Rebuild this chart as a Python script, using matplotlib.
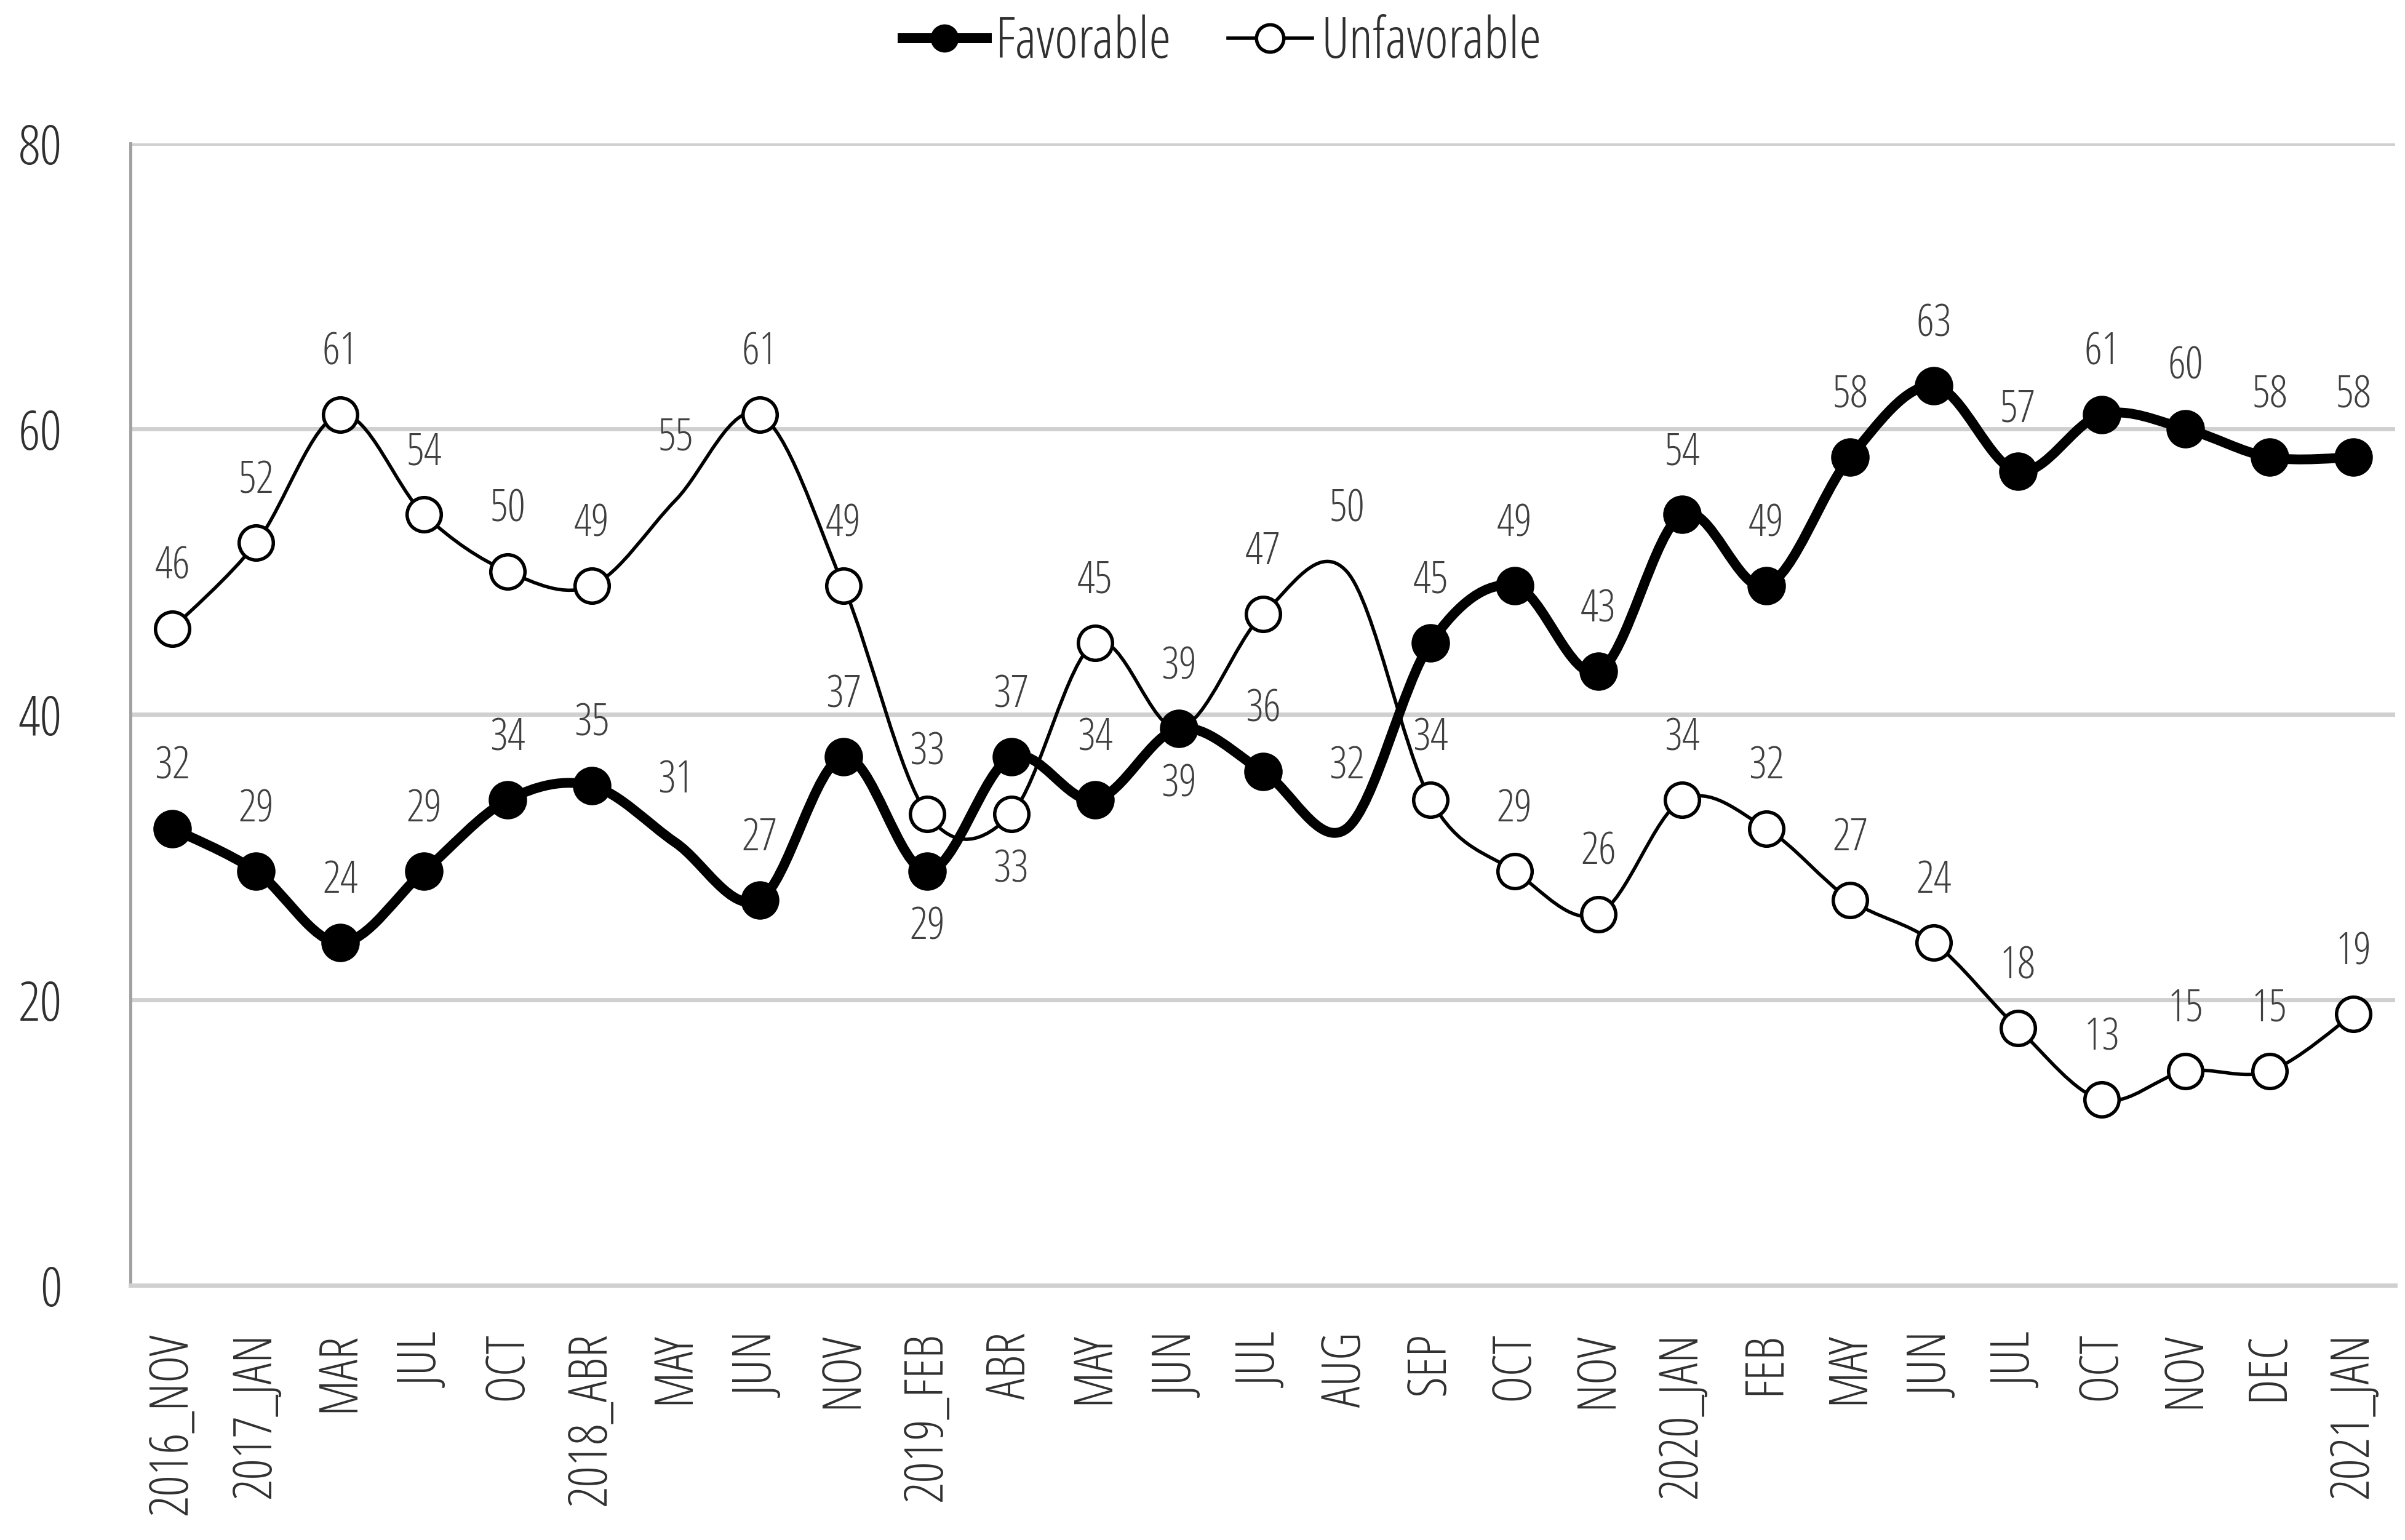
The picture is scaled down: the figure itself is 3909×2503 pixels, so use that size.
import matplotlib
matplotlib.use('Agg')
import matplotlib.pyplot as plt
from matplotlib.path import Path
from matplotlib.patches import PathPatch
from matplotlib.lines import Line2D
import numpy as np

# data
months = ['2016_NOV', '2017_JAN', 'MAR', 'JUL', 'OCT', '2018_ABR', 'MAY', 'JUN', 'NOV',
          '2019_FEB', 'ABR', 'MAY', 'JUN', 'JUL', 'AUG', 'SEP', 'OCT', 'NOV',
          '2020_JAN', 'FEB', 'MAY', 'JUN', 'JUL', 'OCT', 'NOV', 'DEC', '2021_JAN']
favorable = [32, 29, 24, 29, 34, 35, 31, 27, 37, 29, 37, 34, 39, 36, 32, 45, 49, 43,
             54, 49, 58, 63, 57, 61, 60, 58, 58]
unfavorable = [46, 52, 61, 54, 50, 49, 55, 61, 49, 33, 33, 45, 39, 47, 50, 34, 29, 26,
               34, 32, 27, 24, 18, 13, 15, 15, 19]
no_marker = [6, 14]          # points drawn without a marker
fav_below = [9, 12]          # labels placed under the point
unfav_below = [10]

plt.rcParams['font.family'] = ['Open Sans', 'DejaVu Sans']
plt.rcParams['font.stretch'] = 'condensed'
plt.rcParams['font.weight'] = 'light'

fig = plt.figure(figsize=(39.09, 25.03), dpi=100)
ax = fig.add_axes([0.0542, 0.1654, 0.9418, 0.7416])


def smooth_path(vals):
    # excel-like smoothed line as cubic bezier segments
    x = np.arange(len(vals), dtype=float)
    y = np.asarray(vals, dtype=float)
    n = len(y)
    verts = [(x[0], y[0])]
    codes = [Path.MOVETO]
    for i in range(n - 1):
        a = max(i - 1, 0)
        b = min(i + 2, n - 1)
        c1 = (x[i] + (x[i + 1] - x[a]) / 6, y[i] + (y[i + 1] - y[a]) / 6)
        c2 = (x[i + 1] - (x[b] - x[i]) / 6, y[i + 1] - (y[b] - y[i]) / 6)
        verts += [c1, c2, (x[i + 1], y[i + 1])]
        codes += [Path.CURVE4] * 3
    return Path(verts, codes)


ax.add_patch(PathPatch(smooth_path(unfavorable), facecolor='none', edgecolor='black',
                       lw=4, zorder=3))
ax.add_patch(PathPatch(smooth_path(favorable), facecolor='none', edgecolor='black',
                       lw=11.5, zorder=4, capstyle='round', joinstyle='round'))

idx = [i for i in range(len(months)) if i not in no_marker]
xs = np.arange(len(months))
ax.plot(xs, unfavorable, linestyle='none', marker='o', markersize=40,
        markerfacecolor='white', markeredgecolor='black', markeredgewidth=4,
        markevery=idx, zorder=5)
ax.plot(xs, favorable, linestyle='none', marker='o', markersize=44,
        markerfacecolor='black', markeredgecolor='black', markevery=idx, zorder=6)

# data labels
for i, v in enumerate(favorable):
    off = -66 if i in fav_below else 72
    ax.annotate(str(v), (i, v), xytext=(0, off), textcoords='offset points',
                ha='center', va='center', fontsize=52, color='#404040', zorder=7)
for i, v in enumerate(unfavorable):
    off = -66 if i in unfav_below else 72
    ax.annotate(str(v), (i, v), xytext=(0, off), textcoords='offset points',
                ha='center', va='center', fontsize=52, color='#404040', zorder=7)

ax.set_xlim(-0.5, len(months) - 0.5)
ax.set_ylim(0, 80)
ax.set_yticks([0, 20, 40, 60, 80])
ax.set_xticks(xs)
ax.set_xticklabels(months, rotation=90, fontsize=62, color='#303030')
ax.tick_params(axis='y', labelsize=64, labelcolor='#303030', length=0, pad=80)
ax.tick_params(axis='x', length=0, pad=55)
ax.yaxis.grid(True, color='#d0d0d0', lw=5)
ax.set_axisbelow(True)
for s in ['top', 'right']:
    ax.spines[s].set_visible(False)
ax.spines['left'].set_color('#a0a0a0')
ax.spines['left'].set_linewidth(3.5)
ax.spines['bottom'].set_color('#d0d0d0')
ax.spines['bottom'].set_linewidth(5)

handles = [Line2D([], [], color='black', lw=11.5, marker='o', markersize=32,
                  markerfacecolor='black'),
           Line2D([], [], color='black', lw=4, marker='o', markersize=32,
                  markerfacecolor='white', markeredgewidth=4)]
fig.legend(handles, ['Favorable', 'Unfavorable'], loc='center',
           bbox_to_anchor=(0.508, 0.972), ncol=2, frameon=False, fontsize=66,
           handlelength=1.5, columnspacing=1.0, handletextpad=0.15,
           labelcolor='#303030')

fig.savefig('out.png', dpi=100, facecolor='white')
